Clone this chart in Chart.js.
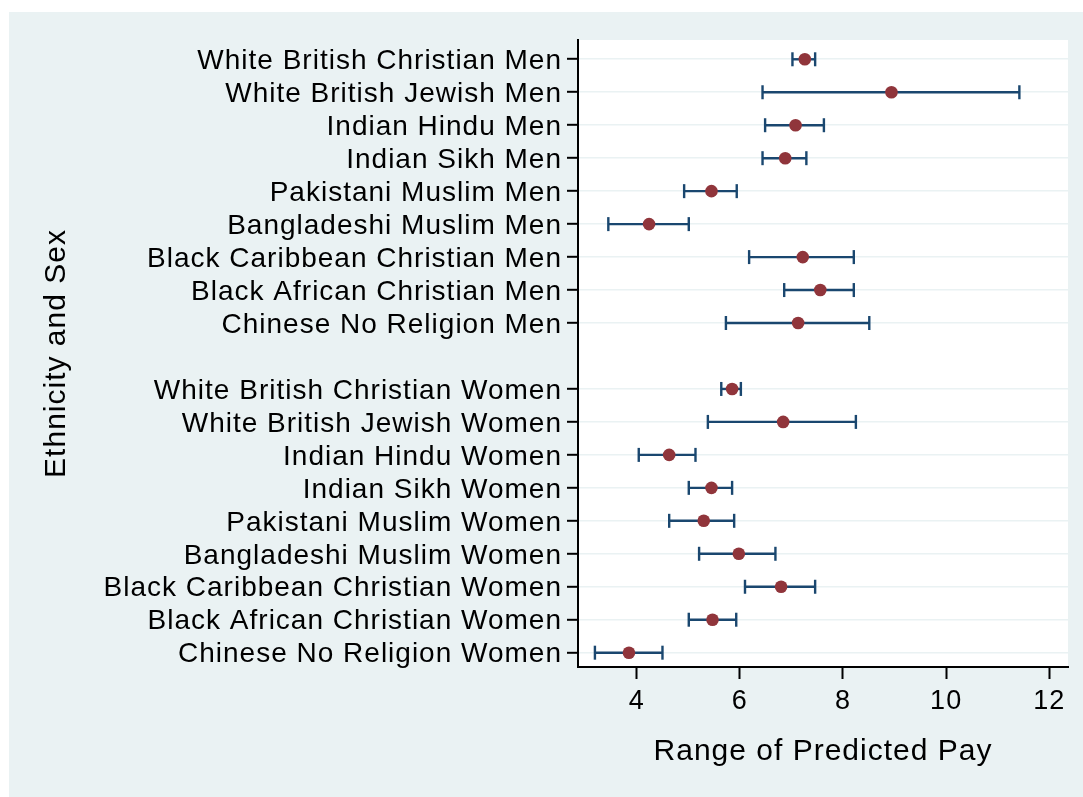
<!DOCTYPE html>
<html>
<head>
<meta charset="utf-8">
<script src="https://cdn.jsdelivr.net/npm/chart.js@4/dist/chart.umd.min.js"></script>
<style>
  html, body { margin: 0; padding: 0; background: #ffffff; }
  #wrap { width: 1083px; height: 797px; }
</style>
</head>
<body>
<div id="wrap"><canvas id="c" width="1083" height="797"></canvas></div>
<script>
// Group labels
const menLabels = [
  "White British Christian Men",
  "White British Jewish Men",
  "Indian Hindu Men",
  "Indian Sikh Men",
  "Pakistani Muslim Men",
  "Bangladeshi Muslim Men",
  "Black Caribbean Christian Men",
  "Black African Christian Men",
  "Chinese No Religion Men"
];
const womenLabels = [
  "White British Christian Women",
  "White British Jewish Women",
  "Indian Hindu Women",
  "Indian Sikh Women",
  "Pakistani Muslim Women",
  "Bangladeshi Muslim Women",
  "Black Caribbean Christian Women",
  "Black African Christian Women",
  "Chinese No Religion Women"
];

// Predicted pay and its range, men
const menPay   = [7.26, 8.94, 7.08, 6.88, 5.45, 4.24, 7.22, 7.56, 7.13];
const menLow   = [7.02, 6.44, 6.49, 6.44, 4.92, 3.45, 6.18, 6.86, 5.73];
const menHigh  = [7.46, 11.42, 7.63, 7.29, 5.94, 5.01, 8.21, 8.21, 8.51];

// Predicted pay and its range, women
const womenPay  = [5.85, 6.84, 4.63, 5.45, 5.30, 5.98, 6.80, 5.47, 3.85];
const womenLow  = [5.64, 5.38, 4.04, 5.01, 4.63, 5.21, 6.10, 5.01, 3.19];
const womenHigh = [6.02, 8.25, 5.14, 5.85, 5.89, 6.69, 7.46, 5.93, 4.50];

const xTicks = [4, 6, 8, 10, 12];

// Rows: men first, one empty row, then women
const labels = [...menLabels, ...womenLabels];
const rows = [
  ...menLabels.map((_, i) => i),
  ...womenLabels.map((_, i) => menLabels.length + 1 + i)
];
const pay  = [...menPay, ...womenPay];
const low  = [...menLow, ...womenLow];
const high = [...menHigh, ...womenHigh];
const labelByRow = {};
rows.forEach((r, i) => { labelByRow[r] = labels[i]; });

const NAVY = '#1A476F';
const MAROON = '#90353B';
const PANEL = '#EAF2F3';
const FONT = '"Liberation Sans", Arial, "DejaVu Sans", sans-serif';

// Range whiskers: one short line per row with vertical caps at both ends
const whiskerSets = rows.map((r, i) => ({
  type: 'scatter',
  data: [{ x: low[i], y: r }, { x: high[i], y: r }],
  showLine: true,
  borderColor: NAVY,
  borderWidth: 2.4,
  pointStyle: 'line',
  rotation: 90,
  pointRadius: 7,
  pointHoverRadius: 7,
  pointBorderColor: NAVY,
  pointBorderWidth: 2.4,
  order: 2
}));

const estimateSet = {
  type: 'scatter',
  data: rows.map((r, i) => ({ x: pay[i], y: r })),
  pointStyle: 'circle',
  pointRadius: 6.3,
  pointHoverRadius: 6.3,
  backgroundColor: MAROON,
  borderColor: MAROON,
  borderWidth: 0,
  order: 0
};

const spacing = {
  id: 'spacing',
  beforeUpdate(chart) { chart.ctx.letterSpacing = '1px'; },
  beforeDraw(chart) { chart.ctx.letterSpacing = '1px'; }
};

const panels = {
  id: 'panels',
  beforeDraw(chart) {
    const { ctx, width, height, chartArea } = chart;
    ctx.save();
    ctx.fillStyle = '#ffffff';
    ctx.fillRect(0, 0, width, height);
    ctx.fillStyle = PANEL;
    ctx.fillRect(9, 12, width - 9, height - 12);
    ctx.fillStyle = '#ffffff';
    ctx.fillRect(chartArea.left, chartArea.top,
                 chartArea.right - chartArea.left, chartArea.bottom - chartArea.top);
    ctx.restore();
  }
};

new Chart(document.getElementById('c'), {
  type: 'scatter',
  data: { datasets: [estimateSet, ...whiskerSets] },
  plugins: [spacing, panels],
  options: {
    responsive: false,
    devicePixelRatio: 1,
    animation: false,
    events: [],
    layout: { padding: { left: 0, top: 40, right: 15, bottom: 0 } },
    plugins: {
      legend: { display: false },
      tooltip: { enabled: false }
    },
    scales: {
      x: {
        type: 'linear',
        min: 2.862,
        max: 12.363,
        afterBuildTicks(scale) { scale.ticks = xTicks.map(v => ({ value: v })); },
        afterFit(scale) { scale.height = 130; },
        ticks: {
          color: '#000000',
          font: { family: FONT, size: 27 },
          padding: 6,
          maxRotation: 0,
          callback: v => String(v)
        },
        grid: {
          drawOnChartArea: false,
          drawTicks: true,
          tickLength: 12,
          tickColor: '#000000',
          tickWidth: 2
        },
        border: { display: true, color: '#000000', width: 2 },
        title: {
          display: true,
          text: 'Range of Predicted Pay',
          color: '#000000',
          font: { family: FONT, size: 30 },
          padding: { top: 0, bottom: 27 }
        }
      },
      y: {
        type: 'linear',
        reverse: true,
        min: -0.585,
        max: 18.434,
        afterBuildTicks(scale) { scale.ticks = rows.map(v => ({ value: v })); },
        afterFit(scale) { scale.width = 578; },
        ticks: {
          color: '#000000',
          font: { family: FONT, size: 28 },
          padding: 5,
          labelOffset: 2,
          autoSkip: false,
          callback: v => labelByRow[v] || ''
        },
        grid: {
          color: PANEL,
          lineWidth: 1.6,
          drawTicks: true,
          tickLength: 11,
          tickColor: '#000000',
          tickWidth: 2
        },
        border: { display: true, color: '#000000', width: 2 },
        title: {
          display: true,
          text: 'Ethnicity and Sex',
          color: '#000000',
          font: { family: FONT, size: 30 },
          padding: { top: 39, bottom: 0 }
        }
      }
    }
  }
});
</script>
</body>
</html>
